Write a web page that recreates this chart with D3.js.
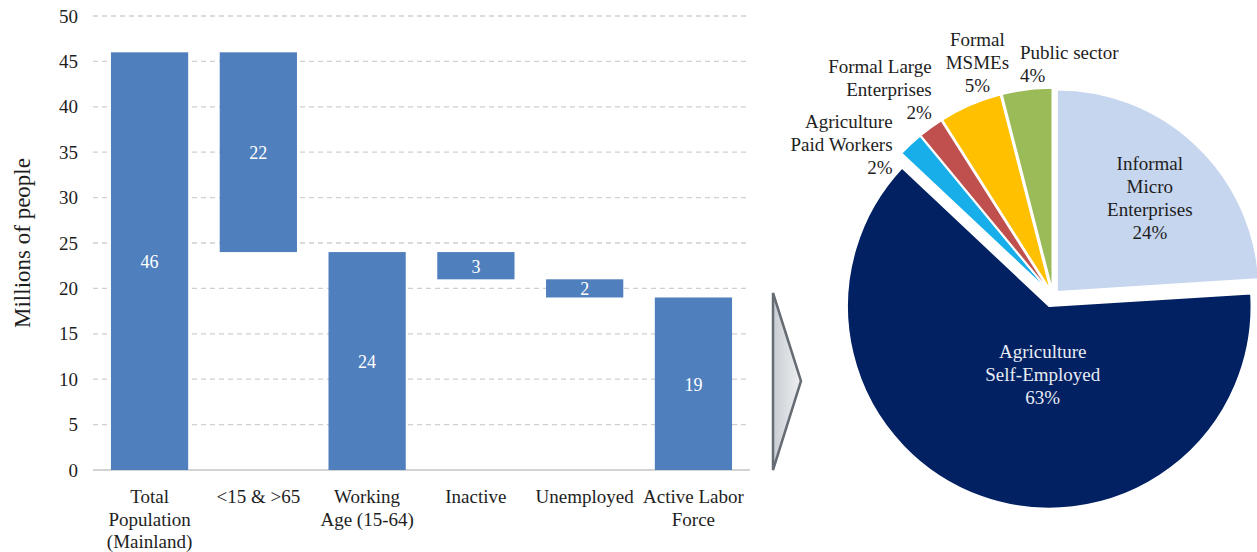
<!DOCTYPE html>
<html>
<head>
<meta charset="utf-8">
<script src="https://cdn.jsdelivr.net/npm/d3@7/dist/d3.min.js"></script>
<style>
  html, body { margin: 0; padding: 0; background: #fff; }
  svg text { font-family: "Liberation Serif", "DejaVu Serif", serif; }
</style>
</head>
<body>
<svg id="chart" width="1257" height="552" font-family="Liberation Serif, DejaVu Serif, serif"></svg>
<script>
// ---- Waterfall: population to labor force (millions) ----
const categories = [
  "Total|Population|(Mainland)",
  "<15 & >65",
  "Working|Age (15-64)",
  "Inactive",
  "Unemployed",
  "Active Labor|Force"
];
const values = [46, 22, 24, 3, 2, 19];
// "total" bars stand on zero, "decrease" bars hang from the running level
const kinds = ["total", "decrease", "total", "decrease", "decrease", "total"];
const yTicks = [0, 5, 10, 15, 20, 25, 30, 35, 40, 45, 50];

// ---- Pie: employment structure (%) ----
const sectors = [
  "Informal|Micro|Enterprises",
  "Agriculture|Self-Employed",
  "Agriculture|Paid Workers",
  "Formal Large|Enterprises",
  "Formal|MSMEs",
  "Public sector"
];
const shares = [24, 63, 2, 2, 5, 4];

const FONT = "Liberation Serif, DejaVu Serif, serif";
const TEXT = "#1e1e1e";
const svg = d3.select("#chart");

// ---------------- waterfall ----------------
const plot = { left: 93, right: 750, top: 16, bottom: 470 };

const x = d3.scaleBand()
  .domain(categories)
  .range([plot.left, plot.right])
  .paddingInner(0.29)
  .paddingOuter(0.165);

const y = d3.scaleLinear().domain([0, 50]).range([plot.bottom, plot.top]);

// running levels for each bar
let level = 0;
const bars = categories.map((c, i) => {
  let lo, hi;
  if (kinds[i] === "total") { lo = 0; hi = values[i]; level = values[i]; }
  else { hi = level; lo = level - values[i]; level = lo; }
  return { cat: c, value: values[i], lo, hi };
});

// dashed gridlines
svg.append("g")
  .selectAll("line")
  .data(yTicks.filter(t => t > 0))
  .join("line")
  .attr("x1", plot.left).attr("x2", plot.right)
  .attr("y1", d => y(d)).attr("y2", d => y(d))
  .attr("stroke", "#d0d0d0")
  .attr("stroke-width", 1.3)
  .attr("stroke-dasharray", "5,4");

// baseline
svg.append("line")
  .attr("x1", plot.left).attr("x2", plot.right)
  .attr("y1", y(0)).attr("y2", y(0))
  .attr("stroke", "#c4c4c4").attr("stroke-width", 1.5);

// y axis labels
const yAxis = d3.axisLeft(y).tickValues(yTicks).tickSize(0).tickPadding(0);
const yg = svg.append("g").attr("transform", `translate(78,0)`).call(yAxis)
  .attr("font-family", FONT);
yg.select(".domain").remove();
yg.selectAll("text")
  .attr("font-family", FONT)
  .attr("font-size", 19)
  .attr("fill", TEXT);

// y axis title
svg.append("text")
  .attr("transform", "translate(22,243) rotate(-90)")
  .attr("text-anchor", "middle")
  .attr("dominant-baseline", "central")
  .attr("font-family", FONT)
  .attr("font-size", 23)
  .attr("fill", TEXT)
  .text("Millions of people");

// bars
svg.append("g")
  .selectAll("rect")
  .data(bars)
  .join("rect")
  .attr("x", d => x(d.cat))
  .attr("width", x.bandwidth())
  .attr("y", d => y(d.hi))
  .attr("height", d => y(d.lo) - y(d.hi))
  .attr("fill", "#4f7fbd");

// bar value labels
svg.append("g")
  .selectAll("text")
  .data(bars)
  .join("text")
  .attr("x", d => x(d.cat) + x.bandwidth() / 2)
  .attr("y", d => y((d.lo + d.hi) / 2) + 1)
  .attr("text-anchor", "middle")
  .attr("dominant-baseline", "central")
  .attr("font-family", FONT)
  .attr("font-size", 18)
  .attr("fill", "#ffffff")
  .text(d => d.value);

// category labels (multi-line)
const catG = svg.append("g")
  .selectAll("text")
  .data(categories)
  .join("text")
  .attr("x", d => x(d) + x.bandwidth() / 2)
  .attr("y", 497)
  .attr("text-anchor", "middle")
  .attr("font-family", FONT)
  .attr("font-size", 19)
  .attr("fill", TEXT);
catG.each(function (d) {
  const t = d3.select(this);
  d.split("|").forEach((line, i) => {
    t.append("tspan")
      .attr("x", x(d) + x.bandwidth() / 2)
      .attr("dy", i === 0 ? "0.33em" : 22.5)
      .text(line);
  });
});

// ---------------- connector arrow ----------------
const defs = svg.append("defs");
const grad = defs.append("linearGradient").attr("id", "arrowFill")
  .attr("x1", "0%").attr("x2", "100%").attr("y1", "0%").attr("y2", "0%");
grad.append("stop").attr("offset", "0%").attr("stop-color", "#c9cdd3");
grad.append("stop").attr("offset", "100%").attr("stop-color", "#eef0f2");

svg.append("path")
  .attr("d", "M773,293 L801,381 L773,470 Z")
  .attr("fill", "url(#arrowFill)")
  .attr("stroke", "#666c74")
  .attr("stroke-width", 2.5)
  .attr("stroke-linejoin", "miter");

// ---------------- pie ----------------
const colors = ["#c6d6ee", "#022163", "#17aeea", "#c0504d", "#ffc000", "#9bbb59"];
const explode = [6, 11, 6, 6, 6, 6];
const center = { x: 1053, y: 296 };
const radius = 202;

const pie = d3.pie().sort(null).value(d => d.v).startAngle(0).endAngle(2 * Math.PI);
const arcs = pie(sectors.map((s, i) => ({ name: s, v: shares[i], color: colors[i], ex: explode[i] })));
const arc = d3.arc().innerRadius(0).outerRadius(radius);

arcs.forEach(a => {
  const mid = (a.startAngle + a.endAngle) / 2;
  a.mid = mid;
  a.ox = center.x + a.data.ex * Math.sin(mid);
  a.oy = center.y - a.data.ex * Math.cos(mid);
});

const pieG = svg.append("g");
pieG.selectAll("path")
  .data(arcs)
  .join("path")
  .attr("transform", d => `translate(${d.ox},${d.oy})`)
  .attr("d", arc)
  .attr("fill", d => d.data.color)
  .attr("stroke", "#ffffff")
  .attr("stroke-width", 1.5)
  .attr("stroke-linejoin", "round");

// label layout: inside labels at a fraction of the radius, outside labels
// offset from the outer edge midpoint of their slice
const labelLayout = [
  { inside: true, r: 0.65, dAngle: 0.03 },
  { inside: true, r: 0.34, dAngle: -0.25 },
  { inside: false, dx: -18, dy: -23, anchor: "end" },
  { inside: false, dx: 1, dy: -61, anchor: "end" },
  { inside: false, dx: 7, dy: -65, anchor: "middle" },
  { inside: false, dx: -7, dy: -37, anchor: "start" }
];
const lineH = 23;

arcs.forEach((a, i) => {
  const L = labelLayout[i];
  const lines = a.data.name.split("|").concat([a.data.v + "%"]);
  let px, py, anchor;
  if (L.inside) {
    const ang = a.mid + L.dAngle;
    const cx = a.ox + radius * L.r * Math.sin(ang);
    const cy = a.oy - radius * L.r * Math.cos(ang);
    px = cx; py = cy - (lines.length - 1) * lineH / 2; anchor = "middle";
  } else {
    const ex = a.ox + radius * Math.sin(a.mid);
    const ey = a.oy - radius * Math.cos(a.mid);
    px = ex + L.dx; py = ey + L.dy; anchor = L.anchor;
  }
  const t = svg.append("text")
    .attr("text-anchor", anchor)
    .attr("font-family", FONT)
    .attr("font-size", 19)
    .attr("fill", i === 1 ? "#e8ecf4" : TEXT);
  lines.forEach((ln, k) => {
    t.append("tspan")
      .attr("x", px)
      .attr("y", py + k * lineH)
      .attr("dy", "0.33em")
      .text(ln);
  });
});
</script>
</body>
</html>
